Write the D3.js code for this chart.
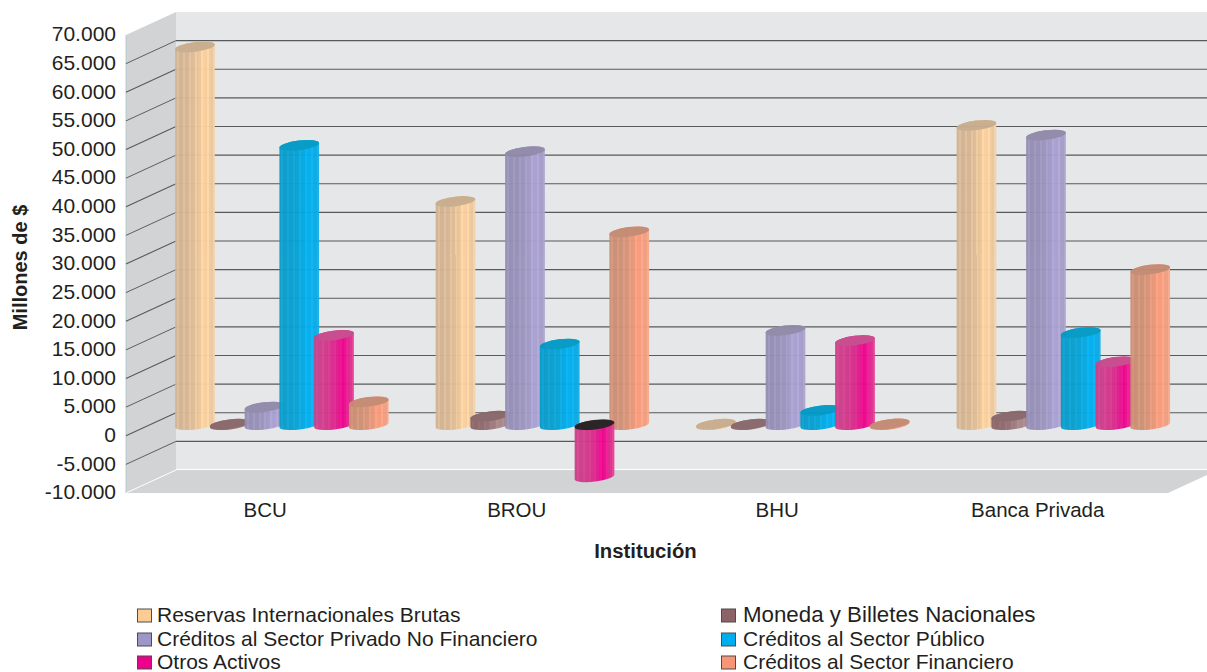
<!DOCTYPE html>
<html><head><meta charset="utf-8">
<script src="https://cdn.jsdelivr.net/npm/d3@7"></script>
<style>html,body{margin:0;padding:0;background:#fff;overflow:hidden}svg{display:block}text{font-family:"Liberation Sans",Arial,sans-serif;fill:#231f20}</style>
</head><body><svg id="c" width="1207" height="672"></svg>
<script>
const categories=["BCU","BROU","BHU","Banca Privada"];
const seriesNames=["Reservas Internacionales Brutas","Moneda y Billetes Nacionales","Créditos al Sector Privado No Financiero","Créditos al Sector Público","Otros Activos","Créditos al Sector Financiero"];
const reservas=[66000,39000,100,52300];
const moneda=[100,1500,100,1500];
const privado=[3100,47700,16500,50600];
const publico=[48800,14100,2500,16100];
const otros=[15600,-9100,14700,11000];
const financiero=[4000,33700,150,27100];
const seriesValues=[reservas,moneda,privado,publico,otros,financiero];
const tickValues=d3.range(-10000,70001,5000);
const legendColors=["#fdcb94","#8c6468","#9d96c8","#00aeef","#ec008c","#f79677"];
const legendSizes=[21,22.3,21,21,21,21];
const bodyLeft=["#d2b392","#8a6669","#958eb4","#0a9cc9","#cc3f8a","#c98f75"];
const bodyPeak=["#fcd09c","#a8868a","#a8a0d0","#00aeef","#ec008c","#f99a7a"];
const bodyRight=["#e4c5a2","#a08084","#a49cc4","#12a6dc","#d9418f","#eba184"];
const topColors=["#c8ad8d","#89666a","#908aa9","#0099c6","#c8488c","#c48a72"];
const negTop="#231f20";

const svg=d3.select("#c");
const wall={x0:176,x1:1207,top:12,bottom:470,dx:-50,dy:23};
const yBack=d3.scaleLinear().domain([-10000,70000]).range([wall.bottom,wall.top]);
const yFront=d3.scaleLinear().domain([-10000,70000]).range([wall.bottom+wall.dy,wall.top+wall.dy]);
const yBar=d3.scaleLinear().domain([-10000,70000]).range([wall.bottom+12,wall.top+12]);

// walls
svg.append("rect").attr("x",wall.x0).attr("y",wall.top).attr("width",wall.x1-wall.x0).attr("height",wall.bottom-wall.top).attr("fill","#e6e7e8");
svg.append("polygon").attr("fill","#d1d3d4").attr("points",[[wall.x0,wall.top],[wall.x0,wall.bottom],[wall.x0+wall.dx,wall.bottom+wall.dy],[wall.x0+wall.dx,wall.top+wall.dy]].join(" "));
svg.append("polygon").attr("fill","#d1d3d4").attr("points",[[wall.x0,wall.bottom],[1207,wall.bottom],[1207,475],[1168,493],[wall.x0+wall.dx,493]].join(" "));
svg.append("line").attr("x1",wall.x0).attr("x2",1207).attr("y1",wall.bottom-.5).attr("y2",wall.bottom-.5).attr("stroke","#fff").attr("stroke-width",1.2);
svg.append("line").attr("x1",wall.x0).attr("y1",wall.bottom).attr("x2",wall.x0+wall.dx).attr("y2",wall.bottom+wall.dy).attr("stroke","#fff").attr("stroke-width",1);
svg.append("line").attr("x1",126).attr("x2",126).attr("y1",35).attr("y2",493).attr("stroke","#a9c6c8").attr("stroke-width",.8);

// gridlines
const gridVals=tickValues.filter(v=>v>-10000&&v<70000);
const grid=svg.append("g").attr("fill","none").attr("stroke","#58595b").attr("stroke-width",1.1);
gridVals.forEach(v=>{
  grid.append("line").attr("x1",wall.x0).attr("x2",wall.x1).attr("y1",yBack(v)).attr("y2",yBack(v));
  grid.append("line").attr("x1",wall.x0).attr("y1",yBack(v)).attr("x2",wall.x0+wall.dx).attr("y2",yFront(v));
});

// y axis labels
const fmt=v=>d3.format(",")(v).replace(/,/g,".").replace("\u2212","-");
const ay=svg.append("g").attr("transform","translate(116,-1.8)").call(d3.axisLeft(yFront).tickValues(tickValues).tickSize(0).tickPadding(0).tickFormat(fmt));
ay.select(".domain").remove();
ay.selectAll("text").style("font-family",'"Liberation Sans",Arial,sans-serif').style("font-size","21px").attr("fill","#231f20").attr("dy",".36em");

// bars
const xGroup=d3.scaleBand().domain(categories).range([175,1217]);
const xSeries=d3.scaleBand().domain(d3.range(6)).range([0,208.5]);
const barW=40, theta=-7, ry=4.8, rx=barW/2;
const ex=rx*Math.cos(theta*Math.PI/180), ey=rx*Math.sin(theta*Math.PI/180);

const defs=svg.append("defs");
seriesNames.forEach((n,i)=>{
  const g=defs.append("linearGradient").attr("id","g"+i).attr("x1",0).attr("x2",1).attr("y1",0).attr("y2",0);
  const colour=t=>t<.72?d3.interpolateRgb(bodyLeft[i],bodyPeak[i])(Math.pow(t/.72,2.6)):d3.interpolateRgb(bodyPeak[i],bodyRight[i])((t-.72)/.28);
  const N=20;
  d3.range(N).forEach(k=>{
    const a=k/N,b=(k+1)/N,c=d3.color(colour((a+b)/2));
    const col=k%3==1?c.brighter(.16):c;
    g.append("stop").attr("offset",a).attr("stop-color",col.formatHex());
    g.append("stop").attr("offset",b).attr("stop-color",col.formatHex());
  });
});

const marks=[];
categories.forEach((c,ci)=>seriesValues.forEach((vals,si)=>{marks.push({c,ci,si,v:vals[ci]});}));
// negative columns sit in front of the rest of their group
marks.sort((a,b)=>(a.ci-b.ci)||((a.v<0)-(b.v<0))||(a.si-b.si));
const gb=svg.append("g");
marks.forEach(m=>{
  const cx=xGroup(m.c)+xSeries(m.si)+barW/2;
  const y0=yBar(0), y1=yBar(m.v);
  const hi=Math.min(y0,y1), lo=Math.max(y0,y1);
  const body=`M${cx-ex},${hi-ey}L${cx-ex},${lo-ey}A${rx},${ry} ${theta} 0 0 ${cx+ex},${lo+ey}L${cx+ex},${hi+ey}A${rx},${ry} ${theta} 0 0 ${cx-ex},${hi-ey}Z`;
  const grp=gb.append("g").attr("opacity",.96);
  grp.append("path").attr("d",body).attr("fill",`url(#g${m.si})`);
  grp.append("ellipse").attr("cx",cx).attr("cy",hi).attr("rx",rx).attr("ry",ry)
    .attr("transform",`rotate(${theta} ${cx} ${hi})`)
    .attr("fill",m.v<0?negTop:topColors[m.si]);
});

// category labels
const catShift={BCU:9};
categories.forEach(c=>{
  svg.append("text").attr("x",xGroup(c)+xGroup.bandwidth()/2-49+(catShift[c]||0)).attr("y",517).attr("text-anchor","middle").attr("font-size",20.5).text(c);
});
svg.append("text").attr("x",645.5).attr("y",558).attr("text-anchor","middle").attr("font-size",20.3).attr("font-weight","bold").text("Institución");
svg.append("text").attr("transform","translate(27,267.5) rotate(-90)").attr("text-anchor","middle").attr("font-size",20).attr("font-weight","bold").text("Millones de $");

// legend
const legX=[137,721], legY=[615.5,639.5,662.5];
seriesNames.forEach((n,i)=>{
  const col=i%2,row=Math.floor(i/2);
  svg.append("rect").attr("x",legX[col]+.5).attr("y",legY[row]-6.5).attr("width",14).attr("height",13).attr("fill",legendColors[i]).attr("stroke","#4d4d4f").attr("stroke-width",1);
  svg.append("text").attr("x",legX[col]+20+(col?2:0)).attr("y",legY[row]+6).attr("font-size",legendSizes[i]).text(n);
});
</script></body></html>
